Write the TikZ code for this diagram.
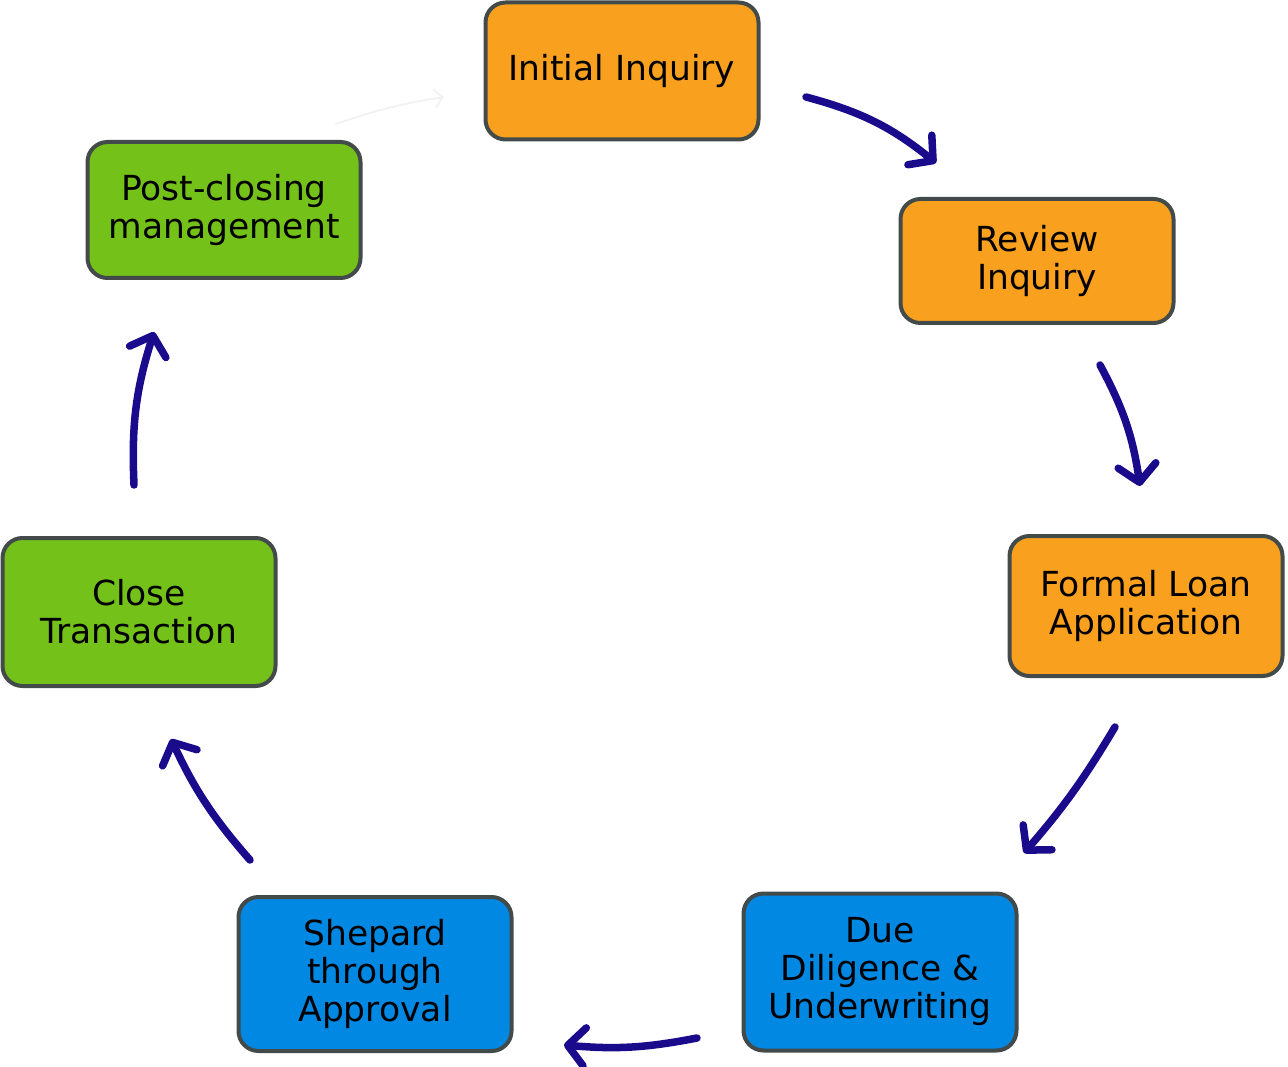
\documentclass[tikz,border=0pt]{standalone}
\usepackage{fontspec}
\setmainfont{DejaVu Sans}
\usetikzlibrary{arrows.meta}
\definecolor{stageorange}{HTML}{F9A11E}
\definecolor{stagegreen}{HTML}{74C11A}
\definecolor{stageblue}{HTML}{0088E3}
\definecolor{stageedge}{HTML}{434A4A}
\definecolor{flownavy}{HTML}{1A0A8C}
\definecolor{flowghost}{HTML}{F2F2F2}
\def\bw{273pt}
\tikzset{
    stage/.style = {
        draw=stageedge, line width=4pt, rounded corners=20pt, minimum width=\bw,
        align=center, font=\fontsize{34.5}{38}\selectfont, text=black
    },
    flow/.style = {
        draw=flownavy, line width=7.5pt, line cap=round,
        -{Straight Barb[length=17pt, width=38pt, line width=7.5pt, round]}
    },
}
\begin{document}
\begin{tikzpicture}[x=1pt, y=-1pt]
        \useasboundingbox (0,0) rectangle (1288,1067);
        % Place the stages
        \node [stage, fill=stageorange, minimum height=137pt] (inquiry) at (622,71) {Initial Inquiry};
        \node [stage, fill=stageorange, minimum height=124pt] (review) at (1037,261) {Review\\Inquiry};
        \node [stage, fill=stageorange, minimum height=140pt] (formal) at (1146,606) {Formal Loan\\Application};
        \node [stage, fill=stageblue, minimum height=157pt] (diligence) at (880,972) {Due\\Diligence \&\\Underwriting};
        \node [stage, fill=stageblue, minimum height=154pt] (shepard) at (375,974) {Shepard\\through\\Approval};
        \node [stage, fill=stagegreen, minimum height=148pt] (close) at (139,612) {Close\\Transaction};
        \node [stage, fill=stagegreen, minimum height=136pt] (post) at (224,210) {Post-closing\\management};

        % Arrow ends
        \coordinate (a1) at (806,97);   \coordinate (b1) at (936,163);
        \coordinate (a2) at (1100,365); \coordinate (b2) at (1140,486);
        \coordinate (a3) at (1115,727); \coordinate (b3) at (1024,853);
        \coordinate (a4) at (697,1038); \coordinate (b4) at (564,1045);
        \coordinate (a5) at (250,860);  \coordinate (b5) at (171,739);
        \coordinate (a6) at (134,485);  \coordinate (b6) at (154,332);
        \coordinate (a7) at (336,124);  \coordinate (b7) at (444,97);

        % Draw connections
        \draw[flow] (a1) to[bend left=12] (b1);
        \draw[flow] (a2) to[bend left=10] (b2);
        \draw[flow] (a3) to[bend left=5] (b3);
        \draw[flow] (a4) to[bend left=8] (b4);
        \draw[flow] (a5) to[bend left=8] (b5);
        \draw[flow] (a6) to[bend left=10] (b6);
        \draw[flow, draw=flowghost, line width=2pt, -{Straight Barb[length=8pt, width=18pt, line width=2pt]}] (a7) to[bend left=5] (b7);
    \end{tikzpicture}
\end{document}
